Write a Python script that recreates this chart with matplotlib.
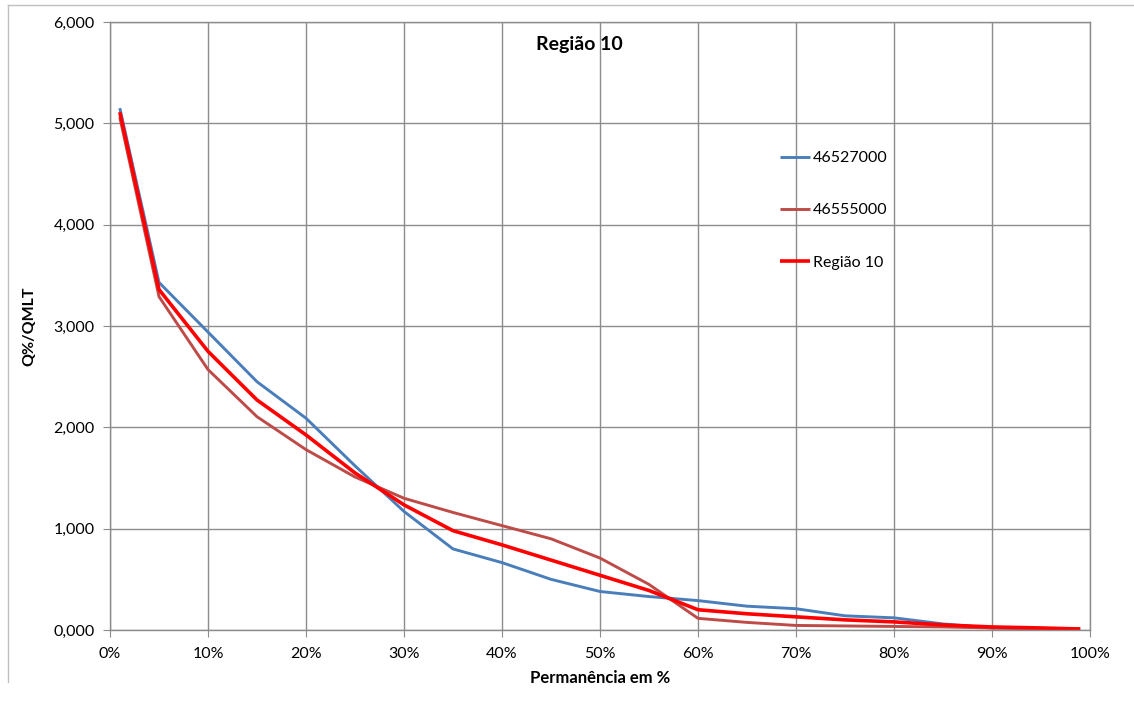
import matplotlib
matplotlib.use("Agg")
import matplotlib.pyplot as plt
from matplotlib.ticker import FuncFormatter, MultipleLocator
from matplotlib.lines import Line2D

permanencia = [1, 5, 10, 15, 20, 25, 30, 35, 40, 45, 50, 55, 60, 65, 70, 75, 80, 85, 90, 95, 99]
s_46527000 = [5.15, 3.43, 2.94, 2.45, 2.09, 1.62, 1.17, 0.80, 0.665, 0.50, 0.38, 0.33, 0.29, 0.235, 0.21, 0.14, 0.12, 0.06, 0.02, 0.012, 0.008]
s_46555000 = [5.06, 3.29, 2.57, 2.105, 1.78, 1.51, 1.30, 1.16, 1.03, 0.90, 0.71, 0.45, 0.115, 0.075, 0.045, 0.04, 0.035, 0.03, 0.02, 0.015, 0.01]
s_regiao10 = [5.11, 3.36, 2.75, 2.27, 1.925, 1.55, 1.235, 0.98, 0.84, 0.69, 0.54, 0.39, 0.20, 0.16, 0.13, 0.10, 0.08, 0.05, 0.03, 0.02, 0.01]
labels = ["46527000", "46555000", "Região 10"]
colors = ["#4A7EBB", "#BE4B48", "#FF0000"]

plt.rcParams['font.family'] = ['Lato', 'DejaVu Sans']

fig = plt.figure(figsize=(11.34, 7.05), dpi=100)
ax = fig.add_axes([110/1134, 75/705, 980/1134, 608/705])

series = [s_46527000, s_46555000, s_regiao10]
widths = [2.1, 2.1, 2.6]
for vals, lab, c, w in zip(series, labels, colors, widths):
    ax.plot(permanencia, vals, color=c, lw=w, label=lab, solid_capstyle='butt')

ax.set_xlim(0, 100)
ax.set_ylim(0, 6)
ax.xaxis.set_major_locator(MultipleLocator(10))
ax.yaxis.set_major_locator(MultipleLocator(1))
ax.xaxis.set_major_formatter(FuncFormatter(lambda v, p: f"{int(round(v))}%"))
ax.yaxis.set_major_formatter(FuncFormatter(lambda v, p: f"{v:.3f}".replace('.', ',')))
ax.grid(True, color='#8c8c8c', lw=1.0)
ax.set_axisbelow(True)
for sp in ax.spines.values():
    sp.set_color('#8c8c8c')
    sp.set_linewidth(1.0)
ax.tick_params(axis='both', direction='out', length=5, color='#8c8c8c', labelsize=11.5, colors='black')
ax.tick_params(axis='x', pad=7)
ax.tick_params(axis='y', pad=6)

ax.set_xlabel("Permanência em %", fontsize=12, fontweight='bold', labelpad=7)
ax.set_ylabel("Q%/QMLT", fontsize=11.5, fontweight='bold', labelpad=12)
ax.text(0.479, 0.963, "Região 10", transform=ax.transAxes, ha='center', va='center',
        fontsize=14, fontweight='bold')

leg = ax.legend(loc='upper left', bbox_to_anchor=(772/1134, 1 - 143/705), bbox_transform=fig.transFigure,
                frameon=False, fontsize=11.5, labelspacing=2.38, handlelength=1.9, handletextpad=0.15,
                borderpad=0)

# outer chart border (partially visible)
fig.add_artist(Line2D([8/1134, 8/1134], [1 - 5/705, 1 - 682/705], transform=fig.transFigure, color='#bfbfbf', lw=1))
fig.add_artist(Line2D([8/1134, 1.0], [1 - 5/705, 1 - 5/705], transform=fig.transFigure, color='#bfbfbf', lw=1))

fig.savefig("out.png", dpi=100)
